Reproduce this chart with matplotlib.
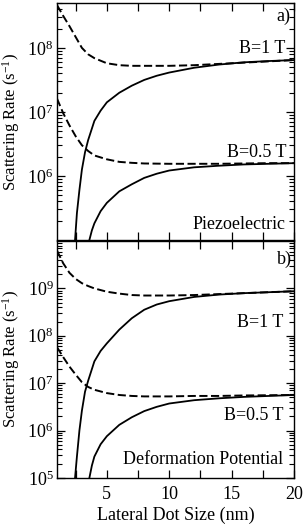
import numpy as np
import matplotlib
matplotlib.use('Agg')
import matplotlib.pyplot as plt
from matplotlib.ticker import MultipleLocator, LogLocator, NullFormatter

plt.rcParams['font.family'] = ['Liberation Serif', 'DejaVu Serif']
plt.rcParams['mathtext.fontset'] = 'custom'
plt.rcParams['mathtext.rm'] = 'Liberation Serif'
plt.rcParams['mathtext.it'] = 'Liberation Serif:italic'

# dot size (nm) for the dashed curves
x_dash = [1, 1.5, 2, 2.5, 3, 3.5, 4, 5, 6, 7, 8, 10, 12, 14, 16, 18, 20]

# log10 of scattering rate (s^-1)
# a) piezoelectric
piezo_1T_dash = [8.67, 8.50, 8.34, 8.17, 8.00, 7.90, 7.84, 7.76, 7.73, 7.72, 7.72, 7.72, 7.73, 7.75, 7.77, 7.79, 7.81]
piezo_05T_dash = [7.21, 6.98, 6.79, 6.62, 6.48, 6.39, 6.32, 6.26, 6.22, 6.205, 6.195, 6.19, 6.19, 6.19, 6.195, 6.20, 6.20]
x_1T_solid = [2.38, 2.45, 2.6, 2.8, 3.0, 3.25, 3.5, 4, 4.5, 5, 6, 7, 8, 9, 10, 12, 14, 16, 18, 20]
piezo_1T_solid = [4.5, 5.0, 5.42, 5.78, 6.10, 6.37, 6.56, 6.86, 7.02, 7.15, 7.30, 7.41, 7.50, 7.565, 7.615, 7.69, 7.74, 7.775, 7.795, 7.81]
x_05T_solid = [3.55, 3.6, 3.8, 4, 4.5, 5, 6, 7, 8, 9, 10, 12, 14, 16, 18, 20]
piezo_05T_solid = [4.7, 5.0, 5.15, 5.26, 5.45, 5.58, 5.76, 5.87, 5.97, 6.035, 6.085, 6.135, 6.16, 6.18, 6.19, 6.20]

# b) deformation potential
defo_1T_dash = [9.80, 9.53, 9.33, 9.20, 9.11, 9.05, 9.00, 8.93, 8.89, 8.86, 8.85, 8.85, 8.86, 8.88, 8.90, 8.92, 8.94]
defo_05T_dash = [7.76, 7.55, 7.35, 7.18, 7.02, 6.92, 6.86, 6.79, 6.75, 6.73, 6.72, 6.72, 6.73, 6.73, 6.74, 6.745, 6.75]
defo_1T_solid = [4.5, 5.0, 5.45, 6.00, 6.42, 6.82, 7.05, 7.46, 7.68, 7.84, 8.13, 8.37, 8.55, 8.66, 8.73, 8.82, 8.87, 8.90, 8.92, 8.94]
defo_05T_solid = [4.8, 5.0, 5.26, 5.45, 5.71, 5.88, 6.12, 6.28, 6.41, 6.50, 6.57, 6.64, 6.68, 6.71, 6.73, 6.75]

fig = plt.figure(figsize=(3.03, 5.24), dpi=100)
ax1 = fig.add_axes([0.188, 0.542, 0.782, 0.452])
ax2 = fig.add_axes([0.188, 0.088, 0.782, 0.452])

dash_style = dict(color='black', lw=1.4, ls=(0, (4.2, 1.8)))
solid_style = dict(color='black', lw=1.3)

panels = [
    (ax1, piezo_1T_dash, piezo_05T_dash, piezo_1T_solid, piezo_05T_solid),
    (ax2, defo_1T_dash, defo_05T_dash, defo_1T_solid, defo_05T_solid),
]
for ax, d1, d05, s1, s05 in panels:
    ax.plot(x_dash, 10 ** np.array(d1), **dash_style)
    ax.plot(x_dash, 10 ** np.array(d05), **dash_style)
    ax.plot(x_1T_solid, 10 ** np.array(s1), **solid_style)
    ax.plot(x_05T_solid, 10 ** np.array(s05), **solid_style)
    ax.set_yscale('log')
    ax.set_xlim(1, 20)
    ax.xaxis.set_major_locator(MultipleLocator(5))
    ax.xaxis.set_minor_locator(MultipleLocator(2.5))
    ax.yaxis.set_minor_locator(LogLocator(base=10, subs=np.arange(2, 10)))
    ax.yaxis.set_minor_formatter(NullFormatter())
    ax.tick_params(which='both', direction='in', top=True, right=True, labelsize=13)
    ax.tick_params(axis='x', which='both', length=6, width=0.9, pad=6)
    ax.tick_params(axis='y', which='major', length=6, width=0.9, pad=2.5)
    ax.tick_params(axis='y', which='minor', length=3.5, width=0.8)
    for sp in ax.spines.values():
        sp.set_linewidth(1.0)
    ax.set_ylabel('Scattering Rate (s$^{-1}$)', fontsize=12)
    ax.yaxis.set_label_coords(-0.148, 0.5)

ax1.set_ylim(1e5, 5e8)
ax1.set_yticks([1e6, 1e7, 1e8])
ax1.tick_params(axis='x', labelbottom=False)
ax2.set_ylim(1e5, 1e10)
ax2.set_yticks([1e5, 1e6, 1e7, 1e8, 1e9])
ax2.set_xlabel('Lateral Dot Size (nm)', fontsize=13)
ax2.xaxis.set_label_coords(0.5, -0.122)

txt = dict(fontsize=13, ha='right', va='center')
ax1.text(0.985, 0.943, 'a)', transform=ax1.transAxes, **txt)
ax1.text(0.962, 0.81, 'B=1 T', transform=ax1.transAxes, **txt)
ax1.text(0.97, 0.371, 'B=0.5 T', transform=ax1.transAxes, **txt)
ax1.text(0.966, 0.067, 'Piezoelectric', transform=ax1.transAxes, **txt)
ax2.text(0.99, 0.924, 'b)', transform=ax2.transAxes, **txt)
ax2.text(0.955, 0.658, 'B=1 T', transform=ax2.transAxes, **txt)
ax2.text(0.955, 0.262, 'B=0.5 T', transform=ax2.transAxes, **txt)
ax2.text(0.955, 0.076, 'Deformation Potential', transform=ax2.transAxes, **txt)

fig.savefig('out.png', dpi=100)
